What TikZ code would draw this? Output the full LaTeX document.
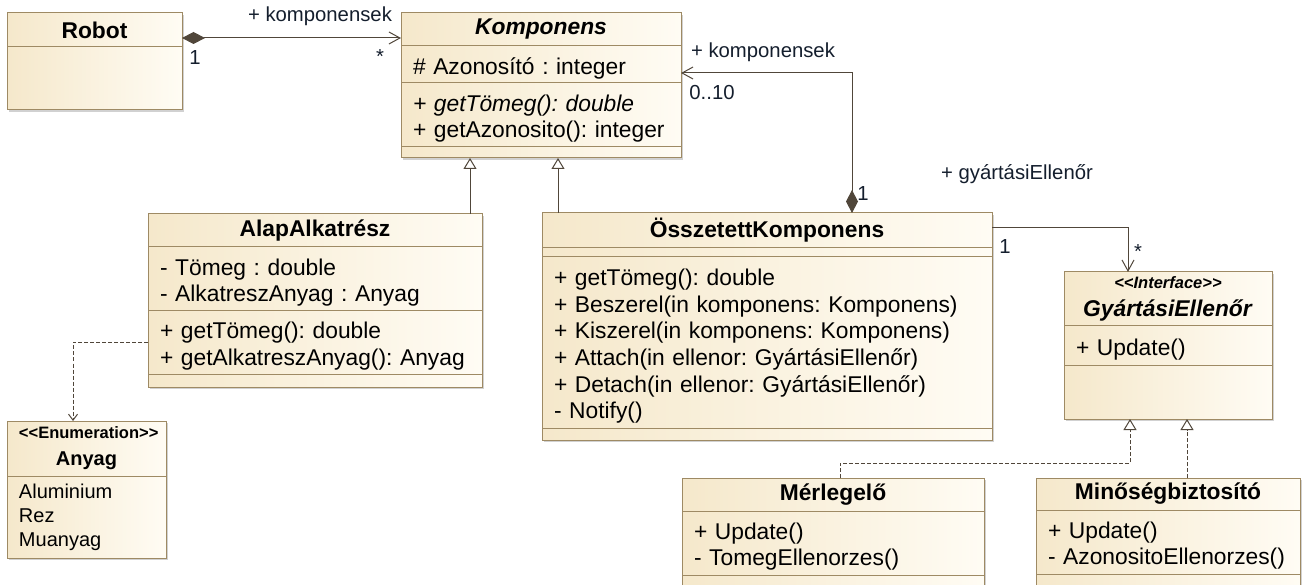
\documentclass[tikz,border=0pt]{standalone}
\usepackage{fontspec}
\setmainfont{Liberation Sans}
\usetikzlibrary{arrows.meta,backgrounds}
\frenchspacing

\definecolor{umlL}{RGB}{245,232,203}
\definecolor{umlR}{RGB}{255,252,244}
\definecolor{umlline}{RGB}{158,138,100}
\definecolor{umlwire}{RGB}{80,70,58}
\definecolor{umltext}{RGB}{20,30,45}

\newcommand{\umlfont}{\fontsize{22.8}{26.6}\selectfont}
\newcommand{\lblfont}{\fontsize{20.3}{24}\selectfont}
\newcommand{\enumfont}{\fontsize{20}{24}\selectfont}
\newcommand{\sterfont}{\fontsize{16.5}{20}\selectfont}
\newcommand{\stereo}[1]{<\kern0pt<#1>\kern0pt>}

\tikzset{
  part/.style={draw=umlline, line width=1pt, left color=umlL, right color=umlR,
    inner xsep=12pt, inner ysep=0pt, outer sep=0pt, anchor=north, align=left, font=\umlfont},
  rows/.style={part, execute at begin node=\rule{0pt}{24pt}},
  head/.style={part, align=center, font=\umlfont\bfseries},
  lbl/.style={font=\lblfont, text=umltext, inner sep=0pt},
  comp/.style={draw=umlwire, line width=1pt, {Diamond[length=23pt,width=12pt]}-{Straight Barb[length=11pt,width=12pt]}},
  assoc/.style={draw=umlwire, line width=1pt, -{Straight Barb[length=11pt,width=12pt]}},
  gen/.style={draw=umlwire, line width=1pt, -{Triangle[open,length=11pt,width=13pt]}},
  real/.style={gen, dash pattern=on 4pt off 2pt},
  dep/.style={draw=umlwire, line width=1pt, dash pattern=on 4pt off 2pt, -{Straight Barb[length=6pt,width=9pt]}},
}

\begin{document}
\begin{tikzpicture}[x=1pt, y=-1pt]
  \useasboundingbox (0,0) rectangle (1304,585);

  % Robot
  \node[head, text width=151pt, minimum height=34pt] (robotT) at (94.5,13) {Robot};
  \node[part, text width=151pt, minimum height=63pt] (robotB) at (robotT.south) {};

  % Komponens
  \node[head, text width=256pt, minimum height=33pt] (kompT) at (541,13) {\textit{Komponens}};
  \node[rows, text width=256pt, minimum height=37pt] (kompA) at (kompT.south) {\# Azonosító : integer};
  \node[rows, text width=256pt, minimum height=64pt] (kompM) at (kompA.south) {\textit{+ getTömeg(): double}\\+ getAzonosito(): integer};
  \node[part, text width=256pt, minimum height=11pt] (kompE) at (kompM.south) {};

  % AlapAlkatresz
  \node[head, text width=310pt, minimum height=33pt] (alapT) at (315,214) {AlapAlkatrész};
  \node[rows, text width=310pt, minimum height=64pt] (alapA) at (alapT.south) {- Tömeg : double\\- AlkatreszAnyag : Anyag};
  \node[rows, text width=310pt, minimum height=63pt] (alapM) at (alapA.south) {+ getTömeg(): double\\+ getAlkatreszAnyag(): Anyag};
  \node[part, text width=310pt, minimum height=13pt] (alapE) at (alapM.south) {};

  % Anyag
  \node[head, text width=135pt, minimum height=55pt, font=\enumfont\bfseries] (anyagT) at (86.5,421) {{\sterfont\stereo{Enumeration}}\\[3pt]Anyag};
  \node[part, text width=135pt, minimum height=82pt, font=\enumfont] (anyagI) at (anyagT.south) {Aluminium\\Rez\\Muanyag};

  % OsszetettKomponens
  \node[head, text width=426pt, minimum height=35pt] (osszT) at (767,213) {ÖsszetettKomponens};
  \node[part, text width=426pt, minimum height=9pt] (osszA) at (osszT.south) {};
  \node[rows, text width=426pt, minimum height=171pt] (osszM) at (osszA.south) {+ getTömeg(): double\\+ Beszerel(in komponens: Komponens)\\+ Kiszerel(in komponens: Komponens)\\+ Attach(in ellenor: GyártásiEllenőr)\\+ Detach(in ellenor: GyártásiEllenőr)\\- Notify()};
  \node[part, text width=426pt, minimum height=12pt] (osszE) at (osszM.south) {};

  % GyartasiEllenor
  \node[head, text width=184pt, minimum height=54pt] (gyT) at (1168,272) {{\sterfont\itshape\stereo{Interface}}\\[1pt]\textit{GyártásiEllenőr}};
  \node[rows, text width=184pt, minimum height=39pt] (gyM) at (gyT.south) {+ Update()};
  \node[part, text width=184pt, minimum height=54pt] (gyE) at (gyM.south) {};

  % Merlegelo
  \node[head, text width=278pt, minimum height=33pt] (merT) at (833,478) {Mérlegelő};
  \node[rows, text width=278pt, minimum height=64pt] (merM) at (merT.south) {+ Update()\\- TomegEllenorzes()};
  \node[part, text width=278pt, minimum height=30pt] (merE) at (merM.south) {};

  % Minosegbiztosito
  \node[head, text width=240pt, minimum height=32pt] (minT) at (1168,478) {Minőségbiztosító};
  \node[rows, text width=240pt, minimum height=64pt] (minM) at (minT.south) {+ Update()\\- AzonositoEllenorzes()};
  \node[part, text width=240pt, minimum height=30pt] (minE) at (minM.south) {};

  % arnyek
  \begin{scope}[on background layer]
    \foreach \hd/\ft in {robotT/robotB, kompT/kompE, alapT/alapE, anyagT/anyagI, osszT/osszE, gyT/gyE, merT/merE, minT/minE}
      \fill[black!18] ([shift={(2pt,-2pt)}]\hd.north west) rectangle ([shift={(2pt,-2pt)}]\ft.south east);
  \end{scope}

  % Robot -- Komponens
  \draw[comp] ([yshift=-8pt]robotT.east) -- ([yshift=-8pt]robotT.east -| kompT.west);
  \node[lbl] (k1name) at (320,16) {+ komponensek};
  \node[lbl] (k1one) at (195,58) {1};
  \node[lbl] (k1many) at (380,57) {*};

  % OsszetettKomponens -- Komponens
  \draw[comp] ([xshift=85pt]osszT.north) |- ([yshift=-8.5pt]kompA.east);
  \node[lbl] (k2name) at (763,52) {+ komponensek};
  \node[lbl] (k2many) at (712,93) {0..10};
  \node[lbl] (k2one) at (863,194) {1};

  % oroklodes
  \draw[gen] ([xshift=155pt]alapT.north) -- ([xshift=155pt]alapT.north |- kompE.south);
  \draw[gen] ([xshift=-209pt]osszT.north) -- ([xshift=-209pt]osszT.north |- kompE.south);

  % AlapAlkatresz -> Anyag
  \draw[dep] (alapM.west) -| ([xshift=-13.5pt]anyagT.north);

  % OsszetettKomponens -> GyartasiEllenor
  \draw[assoc] ([yshift=2.5pt]osszT.east) -| ([xshift=-40pt]gyT.north);
  \node[lbl] (a1name) at (1017,174) {+ gyártásiEllenőr};
  \node[lbl] (a1one) at (1005,247) {1};
  \node[lbl] (a1many) at (1138,252) {*};

  % megvalositas
  \draw[real] ([xshift=7pt]merT.north) -- ++(0,-15) -| ([xshift=-38pt]gyE.south);
  \draw[real] ([xshift=19pt]minT.north) -- ([xshift=19pt]gyE.south);
\end{tikzpicture}
\end{document}
